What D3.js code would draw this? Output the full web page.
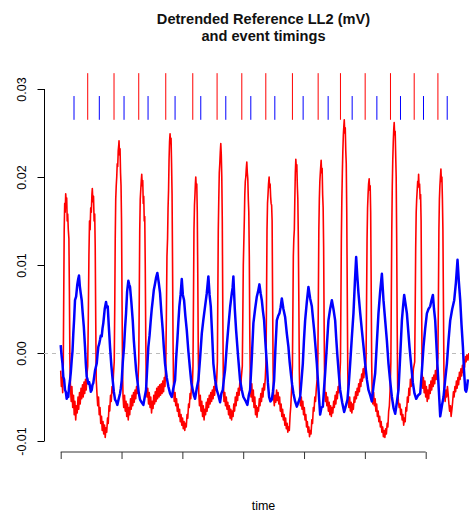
<!DOCTYPE html>
<html>
<head>
<meta charset="utf-8">
<script src="https://cdn.jsdelivr.net/npm/d3@7"></script>
<style>
  body { margin: 0; background: #fff; }
  svg { display: block; font-family: "Liberation Sans", Arial, sans-serif; }
</style>
</head>
<body>
<div id="chart"></div>
<script>
var titleLines = ['Detrended Reference LL2 (mV)', 'and event timings'];
var yTicks = [-0.01, 0, 0.01, 0.02, 0.03];
var yTickLabels = ['-0.01', '0.00', '0.01', '0.02', '0.03'];
var timeTicks = [0, 60.8, 121.6, 182.4, 243.2, 304, 364.8];

var redEvents = [27, 53.3, 78, 105, 132, 156.3, 181, 205, 231.6, 257.3, 279.6, 304.3, 329.6, 353.3, 377];
var blueEvents = [13.3, 38.6, 63.3, 87.3, 114.3, 140, 165, 190, 214, 242.3, 267.3, 291.3, 316, 339.6, 362.6, 386.3];

var redTrace = [
  [0,-20],[0.7,-38],[1.3,-28],[2,-45],[2.6,-10],[3,60],[3.5,140],[4,170],[4.5,160],[5,181],[5.5,172],[6,176],[6.5,150],[7,158],[7.6,140],[8.2,130],[8.7,70],[9.2,-10],[9.8,-40],
  [10.5,-55],[11.2,-38],[12,-62],[12.8,-48],[13.5,-70],[14.2,-55],[15,-76],[15.8,-60],[16.5,-68],[17.3,-50],[18,-64],[18.8,-45],[19.5,-58],[20.3,-40],[21,-52],[21.8,-36],[22.5,-50],[23.3,-33],[24,-46],[24.8,-30],[25.5,-42],[26.2,-25],
  [27,-15],[27.6,40],[28.2,110],[28.8,150],[29.4,140],[30,165],[30.6,160],[31.2,180],[31.6,187],[32.2,172],[32.8,178],[33.4,150],[34,158],[34.5,120],[35,40],[35.5,-30],
  [36.2,-45],[37,-60],[37.8,-50],[38.5,-70],[39.3,-62],[40,-80],[40.8,-72],[41.5,-88],[42.3,-78],[43,-92],[43.8,-82],[44.5,-96],[45.2,-85],[46,-90],[46.8,-74],[47.5,-80],[48.3,-60],[49,-66],[49.8,-48],[50.5,-55],[51.3,-38],[52,-45],[52.7,-25],
  [53.5,-10],[54,50],[54.5,130],[55,175],[55.5,190],[56,200],[56.5,215],[57,212],[57.5,230],[58,236],[58.3,241],[58.8,225],[59.3,232],[59.8,205],[60.3,190],[60.8,150],[61.3,60],[61.8,-20],[62.3,-50],
  [63,-62],[63.8,-48],[64.5,-66],[65.3,-55],[66,-72],[66.8,-58],[67.5,-76],[68.3,-62],[69,-70],[69.8,-52],[70.5,-64],[71.3,-48],[72,-60],[72.8,-45],[73.5,-56],[74.3,-42],[75,-52],[75.8,-38],[76.5,-46],[77.3,-30],
  [78,-10],[78.5,60],[79,140],[79.5,175],[80,185],[80.5,195],[81,203],[81.5,190],[82,196],[82.5,170],[83,178],[83.5,150],[84,155],[84.5,100],[85,20],[85.5,-35],
  [86.2,-50],[87,-40],[87.8,-58],[88.5,-45],[89.3,-62],[90,-50],[90.8,-68],[91.5,-55],[92.3,-63],[93,-48],[93.8,-58],[94.5,-44],[95.3,-55],[96,-40],[96.8,-52],[97.5,-38],[98.3,-50],[99,-36],[99.8,-48],[100.5,-35],[101.3,-46],[102,-32],[102.8,-44],[103.5,-28],[104.2,-38],
  [105,-15],[105.6,40],[106.2,110],[106.8,130],[107.3,165],[107.8,185],[108.3,220],[108.8,240],[109.3,249],[109.8,238],[110.3,244],[110.8,215],[111.3,180],[111.8,100],[112.3,10],[112.8,-40],
  [113.5,-55],[114.3,-45],[115,-60],[115.8,-52],[116.5,-66],[117.3,-58],[118,-72],[118.8,-64],[119.5,-78],[120.3,-70],[121,-82],[121.8,-74],[122.5,-86],[123.3,-78],[124,-88],[124.8,-80],[125.5,-84],[126.3,-70],[127,-74],[127.8,-58],[128.5,-62],[129.3,-46],[130,-52],[130.8,-35],[131.5,-40],
  [132.2,-15],[132.7,60],[133.2,140],[133.7,168],[134.2,180],[134.6,192],[135,200],[135.5,188],[136,192],[136.5,160],[137,90],[137.5,0],[138,-45],
  [138.7,-60],[139.5,-48],[140.2,-66],[141,-55],[141.8,-72],[142.5,-60],[143.3,-76],[144,-64],[144.8,-70],[145.5,-56],[146.3,-66],[147,-52],[147.8,-62],[148.5,-48],[149.3,-58],[150,-45],[150.8,-55],[151.5,-42],[152.3,-52],[153,-38],[153.8,-48],[154.5,-34],[155.3,-42],[156,-28],
  [156.6,-10],[157,60],[157.5,140],[158,175],[158.5,205],[159,215],[159.5,228],[160,238],[160.5,225],[161,200],[161.5,150],[162,50],[162.5,-30],
  [163.2,-55],[164,-45],[164.7,-60],[165.5,-50],[166.2,-64],[167,-56],[167.8,-70],[168.5,-60],[169.3,-74],[170,-64],[170.8,-76],[171.5,-66],[172.3,-72],[173,-58],[173.8,-66],[174.5,-50],[175.3,-60],[176,-45],[176.8,-54],[177.5,-40],[178.3,-48],[179,-34],[179.8,-42],[180.5,-28],
  [181.5,-15],[182,40],[182.5,100],[183,125],[183.5,150],[184,180],[184.5,195],[185,200],[185.5,210],[186,217],[186.5,205],[187,198],[187.5,175],[188,160],[188.5,110],[189,20],[189.5,-35],
  [190.2,-50],[191,-35],[191.7,-55],[192.5,-42],[193.2,-62],[194,-50],[194.7,-70],[195.5,-60],[196.2,-73],[197,-62],[197.7,-66],[198.5,-52],[199.2,-60],[200,-46],[200.7,-55],[201.5,-40],[202.2,-50],[203,-35],[203.7,-42],[204.5,-28],
  [205.2,-10],[205.7,60],[206.2,140],[206.7,170],[207.2,180],[207.7,192],[208.3,200],[208.8,188],[209.3,192],[209.8,178],[210.3,170],[210.8,168],[211.3,150],[211.8,60],[212.3,-20],[212.8,-50],
  [213.5,-60],[214.3,-48],[215,-56],[215.8,-42],[216.5,-54],[217.3,-45],[218,-58],[218.8,-50],[219.5,-66],[220.3,-58],[221,-72],[221.8,-64],[222.5,-76],[223.3,-70],[224,-82],[224.8,-74],[225.5,-86],[226.3,-80],[227,-90],[227.8,-84],[228.5,-88],[229.3,-70],[230,-60],[230.8,-40],
  [231.6,-15],[232,40],[232.5,110],[233,130],[233.5,140],[234,175],[234.5,205],[235,220],[235.5,210],[236,214],[236.5,190],[237,175],[237.5,130],[238,60],[238.5,-20],[239,-50],
  [239.7,-60],[240.5,-50],[241.2,-64],[242,-55],[242.7,-70],[243.5,-62],[244.2,-76],[245,-70],[245.7,-84],[246.5,-78],[247.2,-90],[248,-84],[248.7,-95],[249.5,-88],[250.2,-92],[251,-76],[251.7,-80],[252.5,-62],[253.2,-66],[254,-50],[254.7,-55],[255.5,-40],[256.3,-30],
  [257,-10],[257.5,60],[258,140],[258.5,175],[259,195],[259.5,205],[260,214],[260.3,219],[260.8,205],[261.3,210],[261.8,180],[262.3,165],[262.8,120],[263.3,30],[263.8,-40],
  [264.5,-55],[265.3,-45],[266,-60],[266.8,-50],[267.5,-66],[268.3,-56],[269,-70],[269.8,-60],[270.5,-72],[271.3,-62],[272,-68],[272.8,-55],[273.5,-62],[274.3,-48],[275,-58],[275.8,-44],[276.5,-52],[277.3,-38],[278,-45],[278.8,-30],
  [279.6,-10],[280,50],[280.5,130],[281,175],[281.5,205],[282,230],[282.5,248],[283,258],[283.4,265],[283.9,250],[284.4,256],[284.9,230],[285.4,215],[285.9,160],[286.4,70],[286.9,-20],[287.4,-50],
  [288,-62],[288.8,-50],[289.5,-66],[290.3,-56],[291,-68],[291.8,-58],[292.5,-64],[293.3,-50],[294,-56],[294.8,-44],[295.5,-52],[296.3,-40],[297,-48],[297.8,-35],[298.5,-44],[299.3,-30],[300,-38],[300.8,-24],[301.5,-32],[302.3,-18],[303,-28],[303.8,-15],[304.5,-22],
  [305.2,-5],[305.7,60],[306.2,130],[306.7,165],[307.2,180],[307.7,192],[308.3,198],[308.8,185],[309.3,190],[309.8,160],[310.3,80],[310.8,-10],[311.3,-45],
  [312,-58],[312.8,-45],[313.5,-60],[314.3,-52],[315,-66],[315.8,-58],[316.5,-72],[317.3,-66],[318,-78],[318.8,-72],[319.5,-84],[320.3,-78],[321,-90],[321.8,-84],[322.5,-95],[323.3,-88],[324,-96],[324.8,-86],[325.5,-92],[326.3,-80],[327,-84],[327.8,-66],[328.5,-60],[329.3,-40],
  [330,-10],[330.4,60],[330.9,140],[331.4,190],[331.9,220],[332.4,240],[332.9,255],[333.3,262],[333.8,248],[334.3,252],[334.8,225],[335.3,200],[335.8,130],[336.3,30],[336.8,-40],
  [337.5,-55],[338.3,-62],[339,-58],[339.8,-70],[340.5,-64],[341.3,-76],[342,-70],[342.8,-82],[343.5,-74],[344.3,-78],[345,-62],[345.8,-66],[346.5,-50],[347.3,-56],[348,-40],[348.8,-48],[349.5,-30],[350.3,-38],[351,-22],[351.8,-30],[352.5,-18],
  [353.8,-10],[354.3,50],[354.8,120],[355.3,160],[355.8,175],[356.3,185],[356.8,195],[357.3,190],[357.7,203],[358.2,188],[358.7,192],[359.2,175],[359.7,180],[360.2,150],[360.7,60],[361.2,-20],
  [361.8,-40],[362.5,-28],[363.3,-45],[364,-32],[364.8,-50],[365.5,-38],[366.3,-55],[367,-42],[367.8,-52],[368.5,-36],[369.3,-46],[370,-32],[370.8,-42],[371.5,-28],[372.3,-38],[373,-25],[373.8,-35],[374.5,-20],[375.3,-30],[376,-15],
  [377,-5],[377.5,60],[378,140],[378.5,175],[379,190],[379.5,200],[380,209],[380.5,195],[381,200],[381.5,175],[382,140],[382.5,60],[383,-20],[383.5,-45],
  [384.2,-55],[385,-42],[385.7,-50],[386.5,-38],[387.2,-46],[388,-58],[388.7,-66],[389.5,-60],[390.2,-72],[391,-64],[391.7,-56],[392.5,-44],[393.2,-50],[394,-38],[394.7,-44],[395.5,-32],[396.2,-40],[397,-28],[397.7,-36],[398.5,-22],[399.2,-30],[400,-18],[400.7,-26],[401.5,-14],[402.2,-22],[403,-8],[403.7,-16],[404.5,-4],[405.2,-10],[406,-2],[407,-8],[408,0]
];

var blueTrace = [
  [0,9],[0.5,2],[1,-4],[1.8,-12],[2.6,-27],[3.4,-30],[4.3,-42],[5.1,-44],[6,-52],[6.8,-46],[7.6,-50],[8.4,-38],[9.3,-31],[10.1,-22],[11,-8],[11.8,2],[12.6,22],[13.4,38],[14.3,60],[15.4,64],[16.6,78],[17.5,84],[18.3,88],[19.1,76],[20,68],[21,60],[22,45],[23.1,30],[24.3,7],[25.1,-12],[26,-27],[26.8,-30],[27.6,-35],[28.4,-33],[29.3,-38],[30.1,-44],[31,-42],[31.8,-36],[32.6,-34],[34.3,-20],[36,-12],[36.8,-2],[37.6,7],[38.4,10],[39.3,15],[40.1,20],[41,19],[41.8,28],[42.6,34],[44,50],[45.3,58],[46.1,52],[47,53],[48.1,30],[49.3,7],[50.6,-14],[52,-31],[53.1,-44],[54.3,-53],[55.4,-55],[56.6,-59],[58,-52],[59.3,-46],[60.1,-40],[61,-31],[62.1,-10],[63.3,7],[64.3,28],[65.3,45],[66.4,70],[67.6,82],[68.4,78],[69.3,75],[70.6,58],[72,37],[73.1,14],[74.3,-4],[75.4,-20],[76.6,-31],[78,-45],[79.3,-53],[80.9,-56],[82.6,-59],[84,-50],[85.3,-42],[86.4,-18],[87.6,7],[88.8,20],[90,37],[91,50],[92,60],[93.1,72],[94.3,79],[95.4,86],[96.6,91],[98,80],[99.3,68],[100.6,46],[102,26],[103.1,6],[104.3,-12],[106,-28],[107.6,-38],[109.3,-46],[111,-50],[112.6,-40],[114.3,-31],[115.4,-6],[116.6,15],[117.6,35],[118.6,53],[119.8,66],[121,84],[122.1,66],[123.3,60],[124.6,42],[126,26],[127.6,2],[129.3,-19],[130.6,-34],[132,-42],[133.1,-48],[134.3,-52],[136,-40],[137.6,-31],[139.3,-6],[141,22],[142.6,38],[144.3,53],[146,68],[147.6,87],[148.8,66],[150,53],[151.3,22],[152.6,-12],[154.3,-30],[156,-42],[157.6,-48],[159.3,-56],[160.6,-46],[162,-42],[163.1,-30],[164.3,-19],[166,8],[167.6,30],[169.3,52],[171,68],[171.8,74],[172.6,87],[174,50],[175.3,26],[177.3,-4],[179.3,-31],[181,-42],[182.6,-50],[184.6,-54],[186.6,-59],[188,-48],[189.3,-42],[190.9,-8],[192.6,34],[194.3,50],[196,64],[197.3,70],[198.6,78],[199.8,68],[201,60],[202.1,48],[203.3,37],[204.6,12],[206,-12],[207.1,-34],[208.3,-50],[209.6,-55],[211,-53],[212.1,-44],[213.3,-31],[214.6,5],[216,37],[217.3,42],[218.6,45],[219.8,52],[221,62],[222.6,50],[224.3,41],[226,22],[227.6,7],[228.8,-10],[230,-23],[231.3,-36],[232.6,-46],[234.3,-55],[236,-61],[237.6,-56],[239.3,-50],[240.6,-32],[242,-12],[243.1,14],[244.3,37],[246,58],[247.6,75],[249.3,62],[251,53],[252.1,40],[253.3,26],[254.6,8],[256,-12],[257.6,-40],[259.3,-70],[260.6,-62],[262,-61],[263.1,-42],[264.3,-23],[266,8],[267.6,37],[269.3,50],[271,60],[272.6,50],[274.3,37],[275.4,16],[276.6,-4],[278,-24],[279.3,-42],[281.3,-56],[283.3,-67],[285,-60],[286.6,-53],[288,-34],[289.3,-12],[291,18],[292.6,45],[294,80],[295.3,109],[296.4,88],[297.6,68],[299.3,46],[301,26],[302.6,8],[304.3,-12],[306,-30],[307.6,-42],[309.3,-48],[311,-55],[312.6,-38],[314.3,-23],[316,12],[317.6,45],[319.3,70],[321,90],[322.6,60],[324.3,37],[326,14],[327.6,-12],[329.3,-32],[331,-50],[332.6,-62],[334.3,-69],[336,-56],[337.6,-42],[339.3,-4],[341,37],[342.1,52],[343.3,66],[344.6,56],[346,45],[347.3,26],[348.6,7],[350.3,-14],[352,-34],[353.6,-46],[355.3,-52],[357.3,-48],[359.3,-46],[361,-20],[362.6,7],[364.3,28],[366,45],[367.6,50],[369.3,53],[370.6,60],[372,66],[373.1,50],[374.3,37],[375.4,12],[376.6,-15],[378,-44],[379.3,-72],[381,-60],[382.6,-50],[384.3,-30],[386,-12],[387.6,14],[389.3,37],[391.3,50],[393.3,60],[395,80],[396.6,106],[398,80],[399.3,60],[400.6,32],[402,7],[403.1,-20],[404.3,-42],[405.2,-44],[406,-40],[407,-30]
];

var width = 469, height = 513;
var margin = {left: 44, right: 483, top: 89, bottom: 441};

var x = d3.scaleLinear().domain([0, 364.8]).range([60.7, 425.7]);
var y = d3.scaleLinear().domain([-0.01, 0.03]).range([441, 89]);

var svg = d3.select('#chart').append('svg')
  .attr('width', width)
  .attr('height', height);

svg.append('defs').append('clipPath')
  .attr('id', 'plotClip')
  .append('rect')
  .attr('x', margin.left)
  .attr('y', 60)
  .attr('width', margin.right - margin.left)
  .attr('height', 400);

_drawTitle(svg);
_drawAxes(svg);
_drawTraces(svg);
_drawEvents(svg);

function _drawTitle (svg) {
  svg.append('text')
    .attr('x', 263.5)
    .attr('y', 24)
    .attr('text-anchor', 'middle')
    .style('font-size', '14.6px')
    .style('font-weight', 'bold')
    .style('fill', '#111')
    .selectAll('tspan')
    .data(titleLines)
    .enter()
    .append('tspan')
    .attr('x', 263.5)
    .attr('dy', function (d, i) { return i === 0 ? 0 : 16.7; })
    .text(function (d) { return d; });
}

function _drawAxes (svg) {
  var yAxis = d3.axisLeft(y)
    .tickValues(yTicks)
    .tickSize(7)
    .tickFormat(function (d, i) { return yTickLabels[i]; });

  var gy = svg.append('g')
    .attr('transform', 'translate(44.5,0)')
    .call(yAxis);
  gy.select('.domain').attr('d', 'M0,' + y(0.03) + 'V' + y(-0.01)).attr('stroke', '#000');
  gy.selectAll('.tick line').attr('stroke', '#000');
  gy.selectAll('.tick text')
    .attr('x', null)
    .attr('dy', null)
    .attr('transform', 'translate(-18.5,0) rotate(-90)')
    .attr('text-anchor', 'middle')
    .attr('fill', '#000')
    .style('font-size', '12.5px')
    .style('font-family', '"Liberation Sans", Arial, sans-serif');

  var xAxis = d3.axisBottom(x)
    .tickValues(timeTicks)
    .tickSize(7)
    .tickFormat('');

  var gx = svg.append('g')
    .attr('transform', 'translate(0,452)')
    .call(xAxis);
  gx.select('.domain').attr('d', 'M' + x(0) + ',0H' + x(364.8)).attr('stroke', '#333');
  gx.selectAll('.tick line').attr('stroke', '#333');

  svg.append('text')
    .attr('x', 263.5)
    .attr('y', 510)
    .attr('text-anchor', 'middle')
    .style('font-size', '12.5px')
    .text('time');

  // zero reference
  svg.append('line')
    .attr('x1', margin.left)
    .attr('x2', margin.right)
    .attr('y1', y(0) + 0.5)
    .attr('y2', y(0) + 0.5)
    .style('stroke', '#bbbbbb')
    .style('stroke-dasharray', '4,4')
    .style('stroke-width', 1);
}

function _drawTraces (svg) {
  var line = d3.line()
    .x(function (d) { return x(d[0]); })
    .y(function (d) { return y(d[1] / 10000); });

  var g = svg.append('g').attr('clip-path', 'url(#plotClip)');

  g.append('path')
    .datum(redTrace)
    .style('fill', 'none')
    .style('stroke', '#ff0000')
    .style('stroke-width', 1.6)
    .style('stroke-linejoin', 'round')
    .attr('d', line);

  g.append('path')
    .datum(blueTrace)
    .style('fill', 'none')
    .style('stroke', '#0000ff')
    .style('stroke-width', 2.5)
    .style('stroke-linejoin', 'round')
    .attr('d', line);
}

function _drawEvents (svg) {
  svg.selectAll('.redEvent')
    .data(redEvents)
    .enter()
    .append('line')
    .attr('class', 'redEvent')
    .attr('x1', function (d) { return x(d); })
    .attr('x2', function (d) { return x(d); })
    .attr('y1', y(0.0265))
    .attr('y2', y(0.0318))
    .style('stroke', '#ff0000')
    .style('stroke-width', 1);

  svg.selectAll('.blueEvent')
    .data(blueEvents)
    .enter()
    .append('line')
    .attr('class', 'blueEvent')
    .attr('x1', function (d) { return x(d); })
    .attr('x2', function (d) { return x(d); })
    .attr('y1', y(0.0265))
    .attr('y2', y(0.0292))
    .style('stroke', '#0000ff')
    .style('stroke-width', 1);
}
</script>
</body>
</html>
